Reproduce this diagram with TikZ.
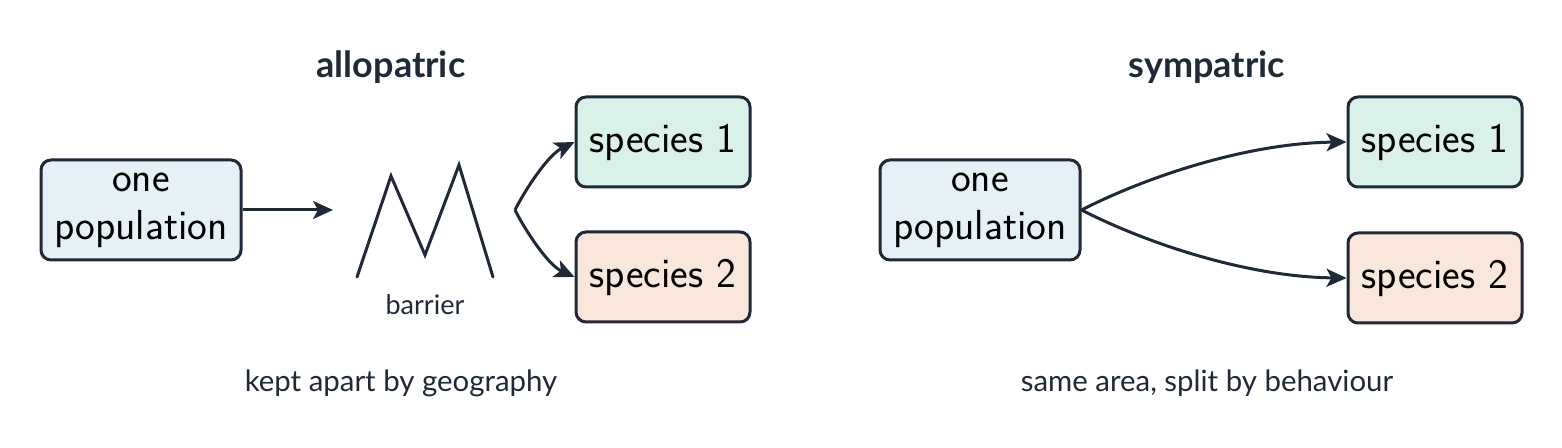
\documentclass[tikz,border=0pt]{standalone}
\usepackage{fontspec}
\newfontfamily\latofont{Lato}
\usetikzlibrary{arrows.meta}

\definecolor{ink}{HTML}{1F2937}
\definecolor{popfill}{HTML}{E6F0F7}
\definecolor{spafill}{HTML}{DAF1EA}
\definecolor{spbfill}{HTML}{FAE7DC}

\tikzset{
  box/.style={draw=ink, line width=1.5pt, rounded corners=5pt, inner sep=0pt,
    align=center, font=\sffamily\fontsize{21}{24}\selectfont},
  popbox/.style={box, fill=popfill, minimum width=100pt, minimum height=50pt},
  spbox/.style={box, minimum width=87pt, minimum height=45pt},
  link/.style={draw=ink, line width=1.5pt, -{Stealth[length=10pt,width=9pt,inset=2.5pt]}},
  title/.style={text=ink, font=\latofont\bfseries\fontsize{18}{21}\selectfont},
  caption/.style={text=ink, font=\latofont\fontsize{14.7}{17}\selectfont}
}

\begin{document}
\begin{tikzpicture}[x=0.5pt,y=0.5pt]
  \useasboundingbox (0,0) rectangle (1562,-448);

  \node[title] (allotitle) at (391,-67) {allopatric};
  \node[popbox] (allopop) at (141,-210) {one\\population};
  \node[spbox, fill=spafill] (allosp1) at (663,-142) {species 1};
  \node[spbox, fill=spbfill] (allosp2) at (663,-277) {species 2};
  \coordinate (wall) at (333,-210);
  \coordinate (fork) at (515,-210);
  \draw[ink, line width=1.5pt, line cap=round] (357,-277) -- (391,-176) -- (425,-255) -- (459,-165) -- (493,-277);
  \node[caption, font=\latofont\fontsize{13.5}{16}\selectfont] (wallname) at (425,-305) {barrier};
  \draw[link] (allopop.east) -- (wall);
  \draw[link] (fork) .. controls (525,-190) and (548,-155) .. (allosp1.west);
  \draw[link] (fork) .. controls (525,-230) and (548,-265) .. (allosp2.west);
  \node[caption] (allonote) at (401,-383) {kept apart by geography};

  \node[title] (sympatitle) at (1207,-67) {sympatric};
  \node[popbox] (sympapop) at (980,-210) {one\\population};
  \node[spbox, fill=spafill] (sympasp1) at (1435,-142) {species 1};
  \node[spbox, fill=spbfill] (sympasp2) at (1435,-278) {species 2};
  \draw[link] (sympapop.east) .. controls (1150,-175) and (1250,-143) .. (sympasp1.west);
  \draw[link] (sympapop.east) .. controls (1150,-245) and (1250,-277) .. (sympasp2.west);
  \node[caption] (sympanote) at (1207,-383) {same area, split by behaviour};
\end{tikzpicture}
\end{document}
